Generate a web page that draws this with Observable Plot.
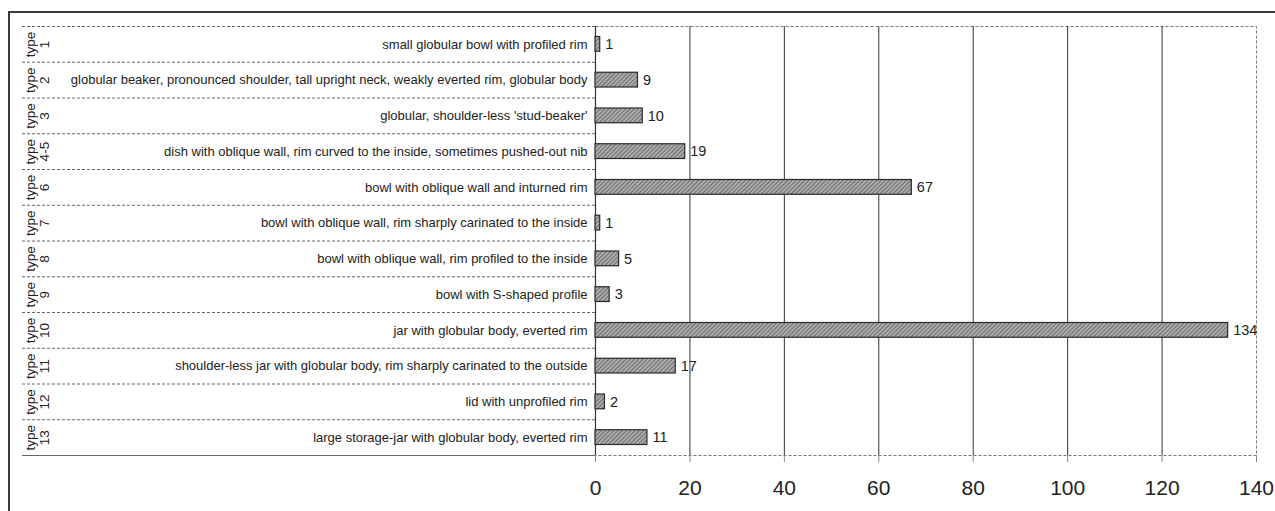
<!DOCTYPE html>
<html>
<head>
<meta charset="utf-8">
<script src="https://cdn.jsdelivr.net/npm/d3@7"></script>
<script src="https://cdn.jsdelivr.net/npm/@observablehq/plot@0.6"></script>
<style>
  html, body { margin: 0; padding: 0; background: #fff; }
  #wrap { position: relative; width: 1275px; height: 511px; overflow: hidden; font-family: "Liberation Sans", Arial, sans-serif; }
  #wrap svg { position: absolute; left: 0; top: 0; }
  #border { position: absolute; left: 8px; top: 11px; width: 1280px; height: 520px; border-top: 2px solid #3a3a3a; border-left: 2px solid #3a3a3a; }
</style>
</head>
<body>
<div id="wrap"><div id="border"></div></div>
<script>
const types = ["1", "2", "3", "4-5", "6", "7", "8", "9", "10", "11", "12", "13"];
const descriptions = [
  "small globular bowl with profiled rim",
  "globular beaker, pronounced shoulder, tall upright neck, weakly everted rim, globular body",
  "globular, shoulder-less 'stud-beaker'",
  "dish with oblique wall, rim curved to the inside, sometimes pushed-out nib",
  "bowl with oblique wall and inturned rim",
  "bowl with oblique wall, rim sharply carinated to the inside",
  "bowl with oblique wall, rim profiled to the inside",
  "bowl with S-shaped profile",
  "jar with globular body, everted rim",
  "shoulder-less jar with globular body, rim sharply carinated to the outside",
  "lid with unprofiled rim",
  "large storage-jar with globular body, everted rim"
];
const counts = [1, 9, 10, 19, 67, 1, 5, 3, 134, 17, 2, 11];
const xTicks = [0, 20, 40, 60, 80, 100, 120, 140];
const gridValues = [20, 40, 60, 80, 100, 120];

const data = types.map((t, i) => ({type: t, desc: descriptions[i], count: counts[i]}));

const W = 1275, H = 511, MT = 26, MB = 56, SPLIT = 595, MR = 19;
const bw = (H - MT - MB) / types.length;
const font = "Liberation Sans, Arial, sans-serif";

// Left: category table
const left = Plot.plot({
  width: W, height: H,
  marginLeft: 22, marginRight: W - SPLIT, marginTop: MT, marginBottom: MB,
  style: {fontFamily: font, background: "transparent", overflow: "visible"},
  y: {type: "band", domain: types, padding: 0, round: false, axis: null},
  marks: [
    Plot.ruleY(types, {y: d => d, dy: -bw / 2, stroke: "#666", strokeWidth: 1, strokeDasharray: "3,2"}),
    Plot.ruleY([types[types.length - 1]], {y: d => d, dy: bw / 2, stroke: "#666", strokeWidth: 1.2}),
    Plot.text(data, {y: "type", text: d => "type\n" + d.type, frameAnchor: "left", dx: 15, rotate: -90,
      textAnchor: "middle", lineAnchor: "middle", fontSize: 13.5, fill: "#222"}),
    Plot.text(data, {y: "type", text: "desc", frameAnchor: "right", dx: -8, textAnchor: "end",
      fontSize: 13, fill: "#222"})
  ]
});

// Right: bar chart
const right = Plot.plot({
  width: W, height: H,
  marginLeft: SPLIT, marginRight: MR, marginTop: MT, marginBottom: MB,
  style: {fontFamily: font, background: "transparent", overflow: "visible"},
  x: {domain: [0, 140]},
  y: {type: "band", domain: types, padding: 0, round: false, axis: null},
  marks: [
    Plot.frame({stroke: "#777", strokeDasharray: "3,2"}),
    Plot.ruleX(gridValues, {stroke: "#333", strokeWidth: 1}),
    Plot.ruleX([0], {stroke: "#333", strokeWidth: 1.2}),
    Plot.barX(data, {x: "count", y: "type", insetTop: 10.5, insetBottom: 10.5,
      fill: "url(#hatch)", stroke: "#2a2a2a", strokeWidth: 1.2}),
    Plot.text(data, {x: "count", y: "type", text: d => String(d.count), dx: 5, textAnchor: "start",
      fontSize: 14.5, fill: "#222"}),
    Plot.axisX({ticks: xTicks, tickSize: 7, tickPadding: 18, fontSize: 21, stroke: "#888",
      fill: "#222", label: null, tickFormat: d => String(d)})
  ]
});

d3.select(right).insert("defs", ":first-child").html(
  '<pattern id="hatch" patternUnits="userSpaceOnUse" width="3" height="3" patternTransform="rotate(45)">' +
  '<rect width="3" height="3" fill="#acacac"></rect>' +
  '<line x1="0" y1="0" x2="0" y2="3" stroke="#505050" stroke-width="1.4"></line>' +
  '</pattern>'
);

const wrap = document.getElementById("wrap");
wrap.appendChild(left);
wrap.appendChild(right);
</script>
</body>
</html>
